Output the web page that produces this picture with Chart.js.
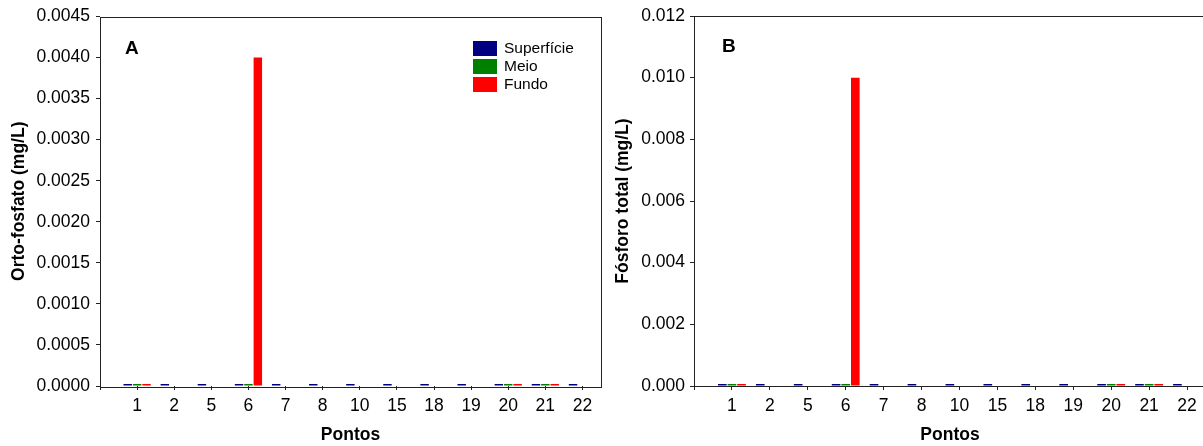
<!DOCTYPE html>
<html>
<head>
<meta charset="utf-8">
<script src="https://cdn.jsdelivr.net/npm/chart.js@4.4.1/dist/chart.umd.min.js"></script>
<style>
  html, body { margin: 0; padding: 0; background: #fff; overflow: hidden; }
  body { width: 1203px; height: 446px; position: relative; }
  .panel { position: absolute; top: 0; height: 446px; }
  #boxA { left: 0; width: 605px; }
  #boxB { left: 605px; width: 602px; }
</style>
</head>
<body>
<div class="panel" id="boxA"><canvas id="chartA"></canvas></div>
<div class="panel" id="boxB"><canvas id="chartB"></canvas></div>
<script>
const pontos = ['1', '2', '5', '6', '7', '8', '10', '15', '18', '19', '20', '21', '22'];
const seriesNames = ['Superfície', 'Meio', 'Fundo'];
const seriesColors = ['#000080', '#008000', '#ff0000'];

// A - orto-fosfato (mg/L)
const ortoSuperficie = [0, 0, 0, 0, 0, 0, 0, 0, 0, 0, 0, 0, 0];
const ortoMeio       = [0, null, null, 0, null, null, null, null, null, null, 0, 0, null];
const ortoFundo      = [0, null, null, 0.004, null, null, null, null, null, null, 0, 0, null];

// B - fósforo total (mg/L)
const fosforoSuperficie = [0, 0, 0, 0, 0, 0, 0, 0, 0, 0, 0, 0, 0];
const fosforoMeio       = [0, null, null, 0, null, null, null, null, null, null, 0, 0, null];
const fosforoFundo      = [0, null, null, 0.010, null, null, null, null, null, null, 0, 0, null];

const ortoTicks = { max: 0.0045, step: 0.0005, decimals: 4 };
const fosforoTicks = { max: 0.012, step: 0.002, decimals: 3 };

Chart.defaults.font.family = "'Liberation Sans', Arial, sans-serif";
Chart.defaults.color = '#000';

const toPoints = values => values.map((v, i) => ({ x: i + 1, y: v }));

// frame, panel letter and legend
const panelDecor = {
  id: 'panelDecor',
  beforeDatasetsDraw(chart, args, opts) {
    const { ctx, chartArea: a } = chart;
    ctx.save();
    ctx.strokeStyle = '#222';
    ctx.lineWidth = 1;
    ctx.strokeRect(Math.round(a.left) + 0.5, Math.round(a.top) + 0.5,
                   Math.round(a.right - a.left), Math.round(a.bottom - a.top));
    ctx.restore();
  },
  afterDraw(chart, args, opts) {
    const { ctx } = chart;
    ctx.save();
    ctx.fillStyle = '#000';
    ctx.textBaseline = 'middle';
    ctx.font = "bold 19px 'Liberation Sans', Arial, sans-serif";
    ctx.fillText(opts.letter, opts.letterX, opts.letterY);
    if (opts.legend) {
      ctx.font = "15.5px 'Liberation Sans', Arial, sans-serif";
      chart.data.datasets.forEach((ds, i) => {
        const y = opts.legendY + i * 18;
        ctx.fillStyle = ds.backgroundColor;
        ctx.fillRect(opts.legendX, y, 24, 15);
        ctx.fillStyle = '#000';
        ctx.fillText(ds.label, opts.legendX + 31, y + 8);
      });
    }
    ctx.restore();
  }
};

function makeChart(id, series, ticks, yTitle, cfg) {
  return new Chart(document.getElementById(id), {
    type: 'bar',
    data: {
      datasets: series.map((values, i) => ({
        label: seriesNames[i],
        data: toPoints(values),
        backgroundColor: seriesColors[i],
        borderWidth: 0,
        minBarLength: 2,
        categoryPercentage: 0.76,
        barPercentage: 0.9
      }))
    },
    options: {
      responsive: true,
      maintainAspectRatio: false,
      animation: false,
      layout: { padding: { top: 16, right: cfg.padRight, bottom: 0, left: 0 } },
      plugins: {
        legend: { display: false },
        tooltip: { enabled: false },
        panelDecor: cfg.decor
      },
      scales: {
        x: {
          type: 'linear',
          min: 0,
          max: 13.5,
          offset: false,
          afterFit: scale => { scale.height = 60; },
          border: { display: false },
          grid: { drawOnChartArea: false, offset: false, tickLength: 4, color: '#222' },
          ticks: {
            stepSize: 1,
            maxTicksLimit: 20,
            autoSkip: false,
            includeBounds: false,
            maxRotation: 0,
            padding: 6,
            font: { size: 17.5 },
            callback: value => pontos[value - 1] ?? ''
          },
          title: {
            display: true,
            text: 'Pontos',
            font: { size: 17.5, weight: 'bold' },
            padding: { top: 0, bottom: 0 }
          }
        },
        y: {
          min: 0,
          max: ticks.max,
          afterFit: scale => { scale.width = cfg.yWidth; },
          border: { display: false },
          grid: { drawOnChartArea: false, tickLength: 4, color: '#222' },
          ticks: {
            stepSize: ticks.step,
            padding: cfg.yTickPad,
            font: { size: 17.5 },
            callback: v => v.toFixed(ticks.decimals)
          },
          title: {
            display: true,
            text: yTitle,
            font: { size: 17.5, weight: 'bold' },
            padding: { top: cfg.yTitlePad, bottom: 0 }
          }
        }
      }
    },
    plugins: [panelDecor]
  });
}

makeChart('chartA', [ortoSuperficie, ortoMeio, ortoFundo], ortoTicks, 'Orto-fosfato (mg/L)', {
  yWidth: 100, padRight: 4, yTickPad: 6, yTitlePad: 9,
  decor: { letter: 'A', letterX: 125, letterY: 49, legend: true, legendX: 473, legendY: 41 }
});

makeChart('chartB', [fosforoSuperficie, fosforoMeio, fosforoFundo], fosforoTicks, 'Fósforo total (mg/L)', {
  yWidth: 89, padRight: 1, yTickPad: 5, yTitlePad: 8,
  decor: { letter: 'B', letterX: 117, letterY: 47, legend: false }
});
</script>
</body>
</html>
